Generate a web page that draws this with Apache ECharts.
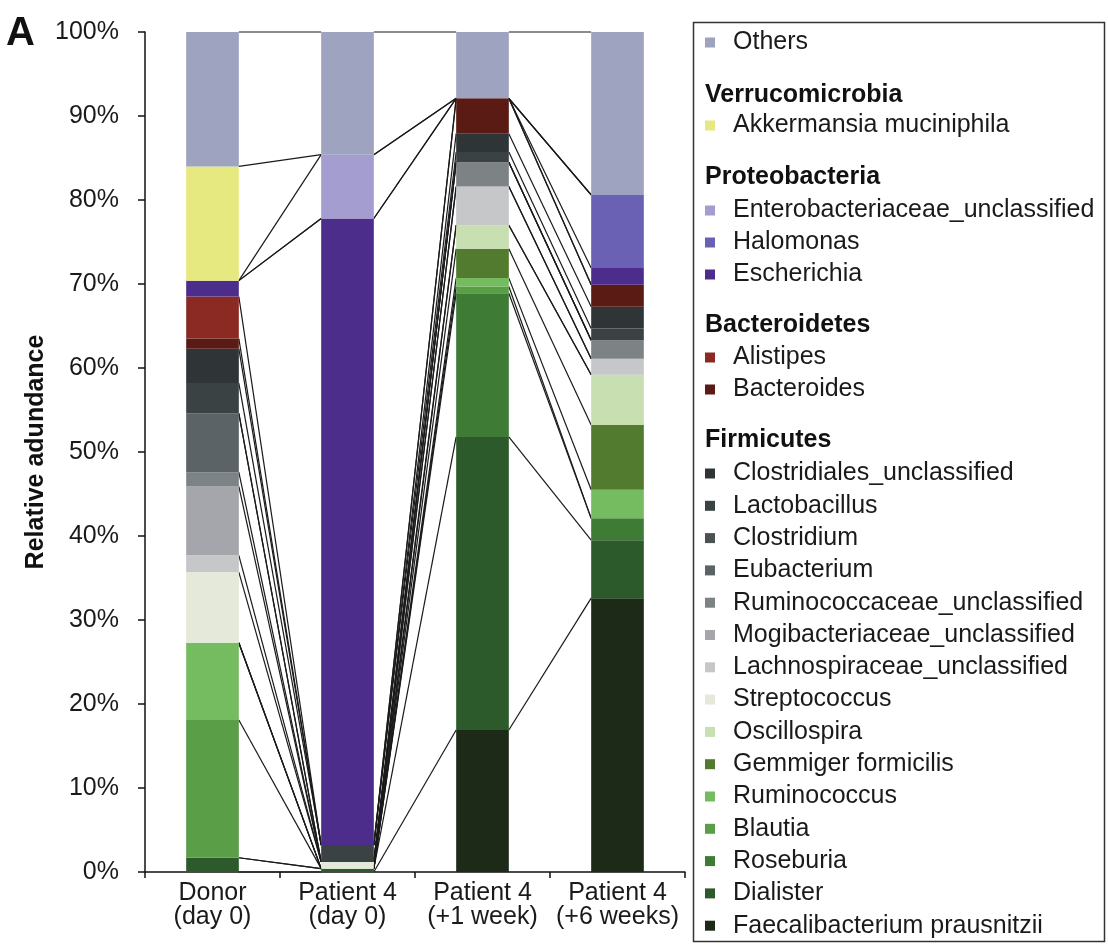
<!DOCTYPE html>
<html>
<head>
<meta charset="utf-8">
<script src="https://cdn.jsdelivr.net/npm/echarts@6/dist/echarts.min.js"></script>
<style>
  html, body { margin: 0; padding: 0; background: #fff; }
  #chart { width: 1108px; height: 948px; }
</style>
</head>
<body>
<div id="chart"></div>
<script>
// Sample groups along the x axis
const categories = ['Donor\n(day 0)', 'Patient 4\n(day 0)', 'Patient 4\n(+1 week)', 'Patient 4\n(+6 weeks)'];

// Taxa, listed in legend order (top of the stack first)
const taxa = [
  'Others',
  'Akkermansia muciniphila',
  'Enterobacteriaceae_unclassified',
  'Halomonas',
  'Escherichia',
  'Alistipes',
  'Bacteroides',
  'Clostridiales_unclassified',
  'Lactobacillus',
  'Clostridium',
  'Eubacterium',
  'Ruminococcaceae_unclassified',
  'Mogibacteriaceae_unclassified',
  'Lachnospiraceae_unclassified',
  'Streptococcus',
  'Oscillospira',
  'Gemmiger formicilis',
  'Ruminococcus',
  'Blautia',
  'Roseburia',
  'Dialister',
  'Faecalibacterium prausnitzii'
];

// Relative abundance (%) per sample, same order as taxa
const donorDay0    = [16.0, 13.6, 0, 0, 1.9, 5.0, 1.2, 4.1, 3.6, 0, 7.0, 1.7, 8.2, 2.0, 8.4, 0, 0, 9.2, 16.4, 0, 1.7, 0];
const patientDay0  = [14.6, 0, 7.6, 0, 74.6, 0, 0, 0, 2.0, 0, 0, 0, 0, 0, 0.8, 0, 0, 0, 0, 0, 0.4, 0];
const patientWeek1 = [7.9, 0, 0, 0, 0, 0, 4.2, 2.2, 1.2, 0, 0, 2.9, 0, 4.6, 0, 2.8, 3.5, 1.0, 0.8, 17.1, 34.9, 16.9];
const patientWeek6 = [19.4, 0, 0, 8.7, 2.0, 0, 2.6, 2.6, 1.4, 0, 0, 2.2, 0, 1.9, 0, 6.0, 7.7, 3.4, 0, 2.6, 6.9, 32.6];

const taxonColors = [
  '#9ea3bf', '#e5e97f', '#a39ecf', '#6a60b4', '#4d2d8b',
  '#8a2a22', '#5a1b14',
  '#2f3537', '#3b4244', '#4c5254', '#5c6366', '#7d8285', '#a5a6ab',
  '#c6c7c9', '#e4e9d9', '#c7dfb1', '#537b2f', '#75bb60', '#5a9e48',
  '#3e7c36', '#2c5a2b', '#1d2a18'
];

// Legend groups (phylum headers and their members)
const legendGroups = [
  { header: null, items: ['Others'] },
  { header: 'Verrucomicrobia', items: ['Akkermansia muciniphila'] },
  { header: 'Proteobacteria', items: ['Enterobacteriaceae_unclassified', 'Halomonas', 'Escherichia'] },
  { header: 'Bacteroidetes', items: ['Alistipes', 'Bacteroides'] },
  { header: 'Firmicutes', items: taxa.slice(7) }
];
const groupTops = [30, 113, 198, 345, 461];
const headerY = [null, 95, 177, 325, 440];

const yTicks = { min: 0, max: 100, interval: 10 };
const FONT = "'Liberation Sans', Arial, Helvetica, sans-serif";
const BAR_RATIO = 0.39;
const samples = [donorDay0, patientDay0, patientWeek1, patientWeek6];

// Stacked bar series, bottom of the stack first
const barSeries = [];
for (let k = taxa.length - 1; k >= 0; k--) {
  barSeries.push({
    name: taxa[k],
    type: 'bar',
    stack: 'abundance',
    barWidth: (BAR_RATIO * 100) + '%',
    itemStyle: { color: taxonColors[k] },
    data: samples.map(s => s[k]),
    z: 3
  });
}

// Series lines joining each segment top between neighbouring bars
const connectorData = [];
for (let k = taxa.length - 1; k >= 0; k--) {
  const tops = samples.map(s => {
    let sum = 0;
    for (let j = taxa.length - 1; j >= k; j--) sum += s[j];
    return Math.min(sum, 100);
  });
  for (let i = 0; i < categories.length - 1; i++) {
    connectorData.push([i, tops[i], tops[i + 1]]);
  }
}

const connectorSeries = {
  type: 'custom',
  silent: true,
  z: 2,
  encode: { x: 0, y: [1, 2] },
  data: connectorData,
  renderItem(params, api) {
    const i = api.value(0);
    const a = api.coord([i, api.value(1)]);
    const b = api.coord([i + 1, api.value(2)]);
    const half = api.size([1, 0])[0] * BAR_RATIO / 2;
    return {
      type: 'line',
      shape: { x1: a[0] + half, y1: a[1], x2: b[0] - half, y2: b[1] },
      style: { stroke: '#1a1a1a', lineWidth: 1.2 }
    };
  }
};

const legends = legendGroups.map((g, gi) => ({
  orient: 'vertical',
  left: 705,
  top: groupTops[gi],
  padding: 0,
  itemGap: gi === 4 ? 7.3 : 7,
  itemWidth: 10,
  itemHeight: 10,
  icon: 'rect',
  selectedMode: false,
  data: g.items,
  textStyle: { fontFamily: FONT, fontSize: 25, color: '#1a1a1a', lineHeight: 25, padding: [0, 0, 0, 13] }
}));

const graphics = [
  {
    type: 'rect',
    shape: { x: 693.5, y: 22.5, width: 411, height: 919 },
    style: { fill: 'none', stroke: '#333', lineWidth: 1.5 }
  },
  {
    type: 'text',
    left: 6, top: 14,
    style: { text: 'A', font: "bold 40px " + FONT, fill: '#111' }
  }
];
legendGroups.forEach((g, gi) => {
  if (!g.header) return;
  graphics.push({
    type: 'text',
    x: 705, y: headerY[gi],
    style: { text: g.header, font: "bold 25px " + FONT, fill: '#111', verticalAlign: 'middle' }
  });
});

const chart = echarts.init(document.getElementById('chart'), null, { renderer: 'canvas' });
chart.setOption({
  animation: false,
  backgroundColor: '#fff',
  grid: { left: 145, right: 423, top: 32, bottom: 76 },
  xAxis: {
    type: 'category',
    data: categories,
    axisLine: { lineStyle: { color: '#111', width: 1.5 } },
    axisTick: { show: true, length: 6, lineStyle: { color: '#111', width: 1.5 } },
    axisLabel: { interval: 0, fontFamily: FONT, fontSize: 25, color: '#1a1a1a', margin: 9, lineHeight: 24 }
  },
  yAxis: {
    type: 'value',
    min: yTicks.min, max: yTicks.max, interval: yTicks.interval,
    name: 'Relative adundance',
    nameLocation: 'middle',
    nameGap: 96,
    nameRotate: 90,
    nameTextStyle: { fontFamily: FONT, fontSize: 25, fontWeight: 'bold', color: '#111' },
    axisLine: { show: true, lineStyle: { color: '#111', width: 1.5 } },
    axisTick: { show: true, length: 7, lineStyle: { color: '#111', width: 1.5 } },
    splitLine: { show: false },
    axisLabel: { formatter: '{value}%', fontFamily: FONT, fontSize: 25, color: '#1a1a1a', margin: 26 }
  },
  legend: legends,
  graphic: graphics,
  series: [...barSeries, connectorSeries]
});
</script>
</body>
</html>
